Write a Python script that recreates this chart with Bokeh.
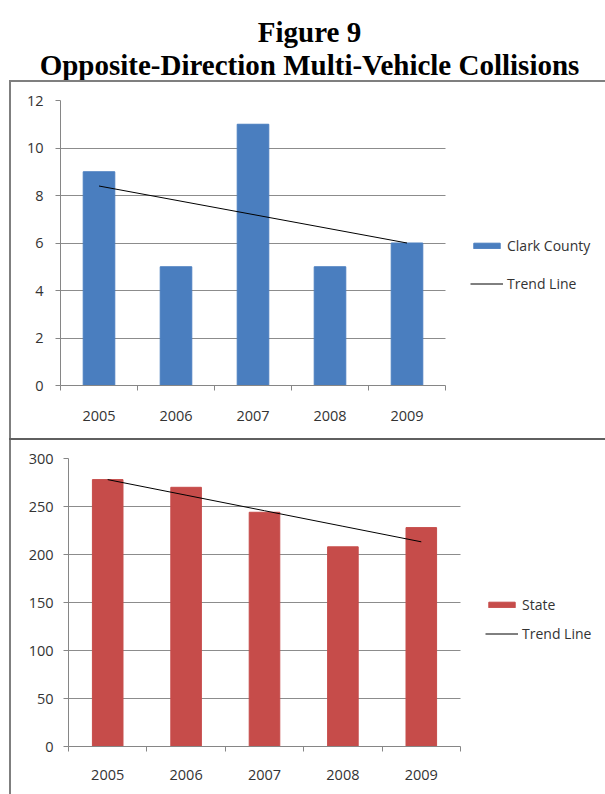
import numpy as np
from bokeh.plotting import figure
from bokeh.models import Range1d, FixedTicker, Legend, LegendItem, Spacer
from bokeh.layouts import column, row
from bokeh.core.properties import value
from bokeh.embed import file_html
from bokeh.resources import INLINE

# ---- data ----
years = ["2005", "2006", "2007", "2008", "2009"]
clark_county = [9, 5, 11, 5, 6]
state = [278, 270, 244, 208, 228]

county_ticks = [0, 2, 4, 6, 8, 10, 12]
state_ticks = [0, 50, 100, 150, 200, 250, 300]

# ---- styling ----
BLUE = "#4A7EBF"
RED = "#C64C4A"
GRID = "#8c8c8c"
AXIS = "#868686"
TEXT = "#333333"
FRAME = "#7f7f7f"
FONT = "Open Sans"


def trend(xs, ys):
    slope, intercept = np.polyfit(xs, ys, 1)
    return [slope * x + intercept for x in xs]


def panel(values, ticks, color, label, w, h, left, top, bottom, cat_px,
          bar_width, legend_loc, legend_spacing, standoff_x, standoff_y):
    n = len(years)
    xs = list(range(1, n + 1))
    frame_w = w - left
    # the frame runs to the right edge so the legend can sit beside the bars
    x_end = 0.5 + frame_w / cat_px
    p = figure(width=w, height=h, output_backend="svg", toolbar_location=None,
               x_range=Range1d(0.5, x_end),
               y_range=Range1d(ticks[0], ticks[-1]))
    p.min_border = 0
    p.min_border_left = left
    p.min_border_right = 0
    p.min_border_top = top
    p.min_border_bottom = bottom
    p.outline_line_color = None
    p.background_fill_color = "white"
    p.border_fill_color = "white"

    bars = p.vbar(x=xs, top=values, width=bar_width, fill_color=color,
                  line_color=color)
    tl = p.line(xs, trend(xs, values), line_color="black", line_width=1)

    # x axis: labels under each bar, small ticks between categories
    xa = p.xaxis[0]
    xa.bounds = (0.5, n + 0.5)
    xa.ticker = FixedTicker(ticks=xs, minor_ticks=[x - 0.5 for x in xs] + [n + 0.5])
    xa.major_label_overrides = {x: yr for x, yr in zip(xs, years)}
    xa.major_tick_line_color = None
    xa.major_tick_out = 0
    xa.major_tick_in = 0
    xa.minor_tick_line_color = AXIS
    xa.minor_tick_out = 5
    xa.minor_tick_in = 0
    xa.axis_line_color = AXIS
    xa.major_label_standoff = standoff_x
    xa.major_label_text_font = FONT
    xa.major_label_text_font_size = "14.5px"
    xa.major_label_text_color = TEXT

    ya = p.yaxis[0]
    ya.ticker = FixedTicker(ticks=ticks)
    ya.axis_line_color = AXIS
    ya.major_tick_line_color = AXIS
    ya.major_tick_out = 5
    ya.major_tick_in = 0
    ya.minor_tick_line_color = None
    ya.major_label_standoff = standoff_y
    ya.major_label_text_font = FONT
    ya.major_label_text_font_size = "14.5px"
    ya.major_label_text_color = TEXT

    p.xgrid.visible = False
    p.ygrid.grid_line_color = GRID
    p.ygrid.grid_line_width = 1
    p.ygrid.cross_bounds = (0.5, n + 0.5)

    legend = Legend(items=[LegendItem(label=label, renderers=[bars]),
                           LegendItem(label="Trend Line", renderers=[tl])],
                    location=legend_loc, orientation="vertical",
                    glyph_width=33, glyph_height=7, label_standoff=4,
                    spacing=legend_spacing, padding=0, margin=0,
                    border_line_color=None, background_fill_alpha=0,
                    label_text_font=FONT, label_text_font_size="14px",
                    label_text_color=TEXT, label_height=20)
    p.add_layout(legend, "center")
    return p


# ---- heading ----
head = figure(width=605, height=80, output_backend="svg", toolbar_location=None,
              x_range=Range1d(0, 605), y_range=Range1d(80, 0),
              x_axis_location=None, y_axis_location=None)
head.min_border = 0
head.outline_line_color = None
head.grid.visible = False
head.text(x=[309, 309], y=[31, 64],
          text=["Figure 9", "Opposite-Direction Multi-Vehicle Collisions"],
          text_font=value("Liberation Serif"), text_font_style="bold",
          text_font_size="29px", text_align="center",
          text_baseline="alphabetic", text_color="black")

top = panel(clark_county, county_ticks, BLUE, "Clark County", 594, 356,
            49, 18, 53, 77.0, 0.41, (410, 92), 18, 20, 12)
bottom = panel(state, state_ticks, RED, "State", 594, 354,
               57, 18, 48, 78.4, 0.39, (417, 103), 9, 18, 10)


def hline(width, color=FRAME):
    return Spacer(width=width, height=2, styles={"background-color": color})


def vline(height):
    return Spacer(width=2, height=height, styles={"background-color": FRAME})


layout = column(
    head,
    row(Spacer(width=9, height=2), hline(596)),
    row(Spacer(width=9, height=356), vline(356), top),
    row(Spacer(width=9, height=2), hline(596, "#5f5f5f")),
    row(Spacer(width=9, height=354), vline(354), bottom),
)

open("out.html", "w").write(file_html(layout, INLINE))
